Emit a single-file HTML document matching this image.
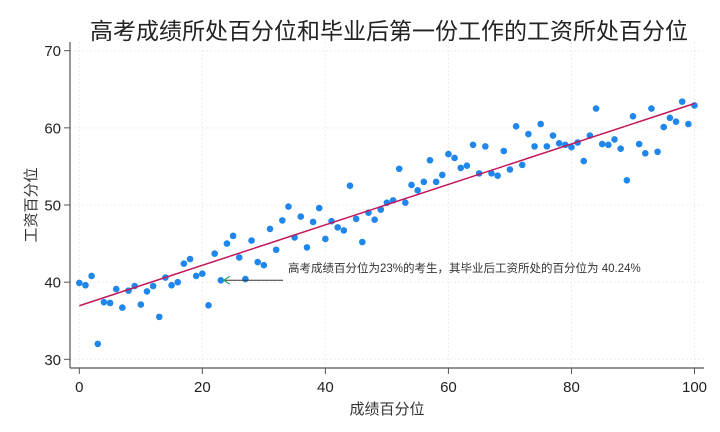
<!DOCTYPE html>
<html><head><meta charset="utf-8"><style>
html,body{margin:0;padding:0;background:#fff;}
svg{display:block;font-family:"Liberation Sans","Noto Sans CJK SC",sans-serif;}
</style></head><body>
<svg id="chart" width="720" height="432" viewBox="0 0 720 432" xmlns="http://www.w3.org/2000/svg">
<rect width="720" height="432" fill="#fff"/>
<text x="389" y="39" text-anchor="middle" font-size="23" fill="#222">高考成绩所处百分位和毕业后第一份工作的工资所处百分位</text>
<g id="grid"></g>
<g id="axes"></g>
<g id="marks"></g>
<text x="387" y="414" text-anchor="middle" font-size="15" fill="#333">成绩百分位</text>
<text transform="translate(36,205) rotate(-90)" text-anchor="middle" font-size="15" fill="#333">工资百分位</text>
<text x="288" y="272" font-size="11.5" fill="#333">高考成绩百分位为23%的考生，其毕业后工资所处的百分位为 40.24%</text>
</svg>
<script>
const xValues = [0,1,2,3,4,5,6,7,8,9,10,11,12,13,14,15,16,17,18,19,20,21,22,23,24,25,26,27,28,29,30,31,32,33,34,35,36,37,38,39,40,41,42,43,44,45,46,47,48,49,50,51,52,53,54,55,56,57,58,59,60,61,62,63,64,65,66,67,68,69,70,71,72,73,74,75,76,77,78,79,80,81,82,83,84,85,86,87,88,89,90,91,92,93,94,95,96,97,98,99,100];
const yValues = [39.9,39.6,40.8,32.0,37.4,37.3,39.1,36.7,38.9,39.5,37.1,38.8,39.5,35.5,40.6,39.6,40.0,42.4,43.0,40.8,41.1,37.0,43.7,40.24,45.0,46.0,43.2,40.4,45.4,42.6,42.2,46.9,44.2,48.0,49.8,45.8,48.5,44.5,47.8,49.6,45.6,47.9,47.1,46.7,52.5,48.2,45.2,49.0,48.1,49.4,50.3,50.6,54.7,50.3,52.6,51.9,53.0,55.8,53.0,53.9,56.6,56.1,54.8,55.1,57.8,54.1,57.6,54.1,53.8,57.0,54.6,60.2,55.2,59.2,57.6,60.5,57.6,59.0,58.0,57.8,57.5,58.1,55.7,59.0,62.5,57.9,57.8,58.5,57.3,53.2,61.5,57.9,56.7,62.5,56.9,60.1,61.3,60.8,63.4,60.5,62.9];
const xTicks = [0,20,40,60,80,100];
const yTicks = [30,40,50,60,70];
const highlightX = 23;

const NS = "http://www.w3.org/2000/svg";
const sx = v => 79.3 + v * 6.152;
const sy = v => 359.3 - (v - 30) * 7.715;
function mk(tag, attrs, parent) {
  const e = document.createElementNS(NS, tag);
  for (const k in attrs) e.setAttribute(k, attrs[k]);
  parent.appendChild(e);
  return e;
}
const grid = document.getElementById('grid');
const axes = document.getElementById('axes');
const marks = document.getElementById('marks');

xTicks.forEach(t => {
  const g = mk('line', {x1: sx(t), x2: sx(t), y1: 42, y2: 368, stroke: '#eee', 'stroke-width': 1, 'stroke-dasharray': '2,2'}, grid);
  
  
  const tk = mk('line', {x1: sx(t), x2: sx(t), y1: 368, y2: 374, stroke: '#555'}, axes);
  
  
  const lb = mk('text', {x: sx(t), y: 392, 'text-anchor': 'middle', 'font-size': 15, fill: '#222'}, axes);
  lb.textContent = t;
  
  
});
yTicks.forEach(t => {
  const g = mk('line', {x1: 70, x2: 704, y1: sy(t), y2: sy(t), stroke: '#eee', 'stroke-width': 1, 'stroke-dasharray': '2,2'}, grid);
  
  
  const tk = mk('line', {x1: 64, x2: 70, y1: sy(t), y2: sy(t), stroke: '#555'}, axes);
  
  
  const lb = mk('text', {x: 61, y: sy(t) + 5.5, 'text-anchor': 'end', 'font-size': 15, fill: '#222'}, axes);
  lb.textContent = t;
  
  
});
const ya = mk('line', {x1: 70, x2: 70, y1: 42, y2: 368, stroke: '#555', 'stroke-width': 1.2}, axes);


const xa = mk('line', {x1: 70, x2: 704, y1: 368, y2: 368, stroke: '#555', 'stroke-width': 1.2}, axes);



// points
xValues.forEach((x, i) => {
  const c = mk('circle', {cx: sx(x), cy: sy(yValues[i]), r: 3.3, fill: '#1f86ec'}, marks);
  
  
});
// linear fit
const n = xValues.length;
const mx = xValues.reduce((a, b) => a + b, 0) / n;
const my = yValues.reduce((a, b) => a + b, 0) / n;
let sxy = 0, sxx = 0;
xValues.forEach((x, i) => { sxy += (x - mx) * (yValues[i] - my); sxx += (x - mx) * (x - mx); });
const slope = sxy / sxx, icpt = my - slope * mx;
const x0 = Math.min(...xValues), x1 = Math.max(...xValues);
const fit = mk('line', {x1: sx(x0), y1: sy(icpt + slope * x0), x2: sx(x1), y2: sy(icpt + slope * x1), stroke: '#c2185b', 'stroke-width': 1.5}, marks);


// annotation arrow
const hy = yValues[xValues.indexOf(highlightX)];
const ax = sx(highlightX) + 3, ay = sy(hy);
const arr = mk('line', {x1: 283, y1: ay, x2: ax, y2: ay, stroke: '#333', 'stroke-width': 1}, marks);


const head = mk('path', {d: `M${ax + 6},${ay - 4} L${ax},${ay} L${ax + 6},${ay + 4}`, stroke: '#2aa36b', 'stroke-width': 1.2, fill: 'none'}, marks);


</script>
</body></html>
